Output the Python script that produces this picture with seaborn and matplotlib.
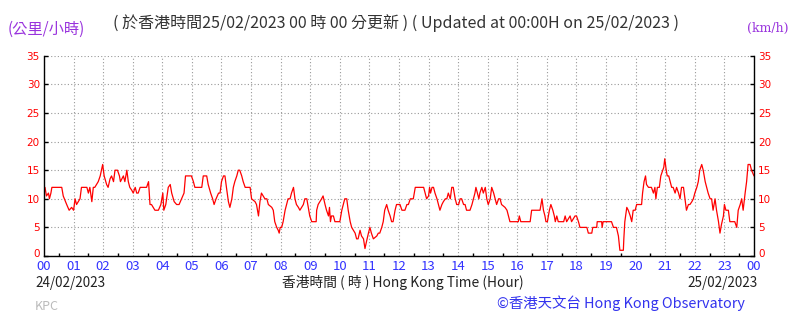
import numpy as np
import pandas as pd
import matplotlib
matplotlib.use("Agg")
import matplotlib.pyplot as plt
import matplotlib.transforms as mtransforms
from matplotlib.ticker import MultipleLocator
import seaborn as sns

# ---- data (minutes after 00:00 on 24/02/2023, wind speed km/h) ----
minutes = [0, 2, 5, 9, 11, 14, 16, 36, 39, 46, 51, 56, 60, 63, 66, 73, 76, 87, 90, 93, 97,
           100, 103, 110, 114, 119, 122, 127, 130, 134, 137, 141, 144, 149, 153, 155, 161,
           164, 168, 171, 174, 178, 181, 185, 188, 191, 195, 208, 212, 215, 218, 225, 232,
           237, 241, 243, 247, 252, 256, 259, 264, 269, 274, 279, 284, 287, 299, 303, 306,
           320, 323, 330, 333, 338, 342, 345, 349, 354, 357,
           360, 364, 367, 370, 374, 377, 381, 384, 387, 391, 394, 397, 401, 404, 408, 418,
           421, 428, 431, 435, 438, 441, 448, 452, 455, 462, 465, 468, 472, 475, 477, 479,
           482, 485, 489, 492, 495, 499, 502, 506, 509, 512, 516, 519, 526, 529, 533, 536,
           539, 543, 552, 553, 556, 563, 566, 570, 573, 577, 579, 581, 583, 587, 590, 600,
           604, 607, 610, 614, 617, 621, 624, 631, 634, 637, 641, 644, 648, 651, 654, 658,
           661, 664, 668, 675, 678, 681, 685, 688, 691, 695, 698, 702, 705, 708, 712, 715,
           722, 726, 732, 736, 739, 743, 749, 753, 770, 773, 776, 780, 782, 784, 787, 790,
           793, 797, 800, 803, 807, 810, 814, 817, 820, 824, 827, 830, 834, 837, 841, 844,
           847, 851, 854, 857, 864, 868, 871, 874, 876, 879, 882, 884, 888, 891, 895, 898,
           901, 905, 908, 912, 915, 918, 922, 925, 928, 935, 939, 942, 945, 962, 964, 967,
           986, 989, 1006, 1010, 1013, 1016, 1018, 1021, 1025, 1028, 1032, 1035, 1037, 1040,
           1043, 1054, 1057, 1060, 1067, 1070, 1077, 1080, 1084, 1087, 1101, 1104, 1111,
           1113, 1121, 1122, 1131, 1132, 1134, 1151, 1155, 1161, 1165, 1168, 1175, 1176,
           1178, 1182, 1185, 1189, 1192, 1195, 1199, 1202, 1212, 1214, 1217, 1220, 1222,
           1226, 1232, 1236, 1239, 1241, 1244, 1248, 1251, 1255, 1257, 1259, 1262, 1264,
           1267, 1270, 1273, 1276, 1280, 1283, 1287, 1290, 1293, 1297, 1300, 1303, 1307,
           1310, 1314, 1317, 1320, 1324, 1327, 1330, 1334, 1337, 1341, 1344, 1347, 1351,
           1354, 1357, 1361, 1364, 1368, 1371, 1374, 1378, 1380, 1383, 1388, 1391, 1401,
           1405, 1408, 1412, 1415, 1418, 1422, 1425, 1428, 1432, 1435, 1440]
speed = [11, 12, 10.5, 11, 10, 11, 12, 12, 10.5, 9, 8, 8.5, 8, 10, 9, 10, 12, 12, 11, 12, 9.5,
         12, 12, 13, 14, 16, 14, 12.5, 12, 13.5, 14, 13, 15, 15, 14, 13, 14,
         13, 15, 13, 12, 11.5, 11, 12, 11, 11, 12, 12, 13, 9, 9, 8, 8,
         9, 11, 8, 9, 12, 12.5, 11, 9.5, 9, 9, 10, 11, 14, 14, 13, 12,
         12, 14, 14, 12.5, 11, 10, 9, 10, 11, 11,
         13, 14, 14, 12, 9.5, 8.5, 10, 12, 13, 14, 15, 15, 14, 13, 12, 12,
         10, 9.5, 9, 7, 9.5, 11, 10, 10, 9, 8.5, 8, 6, 5, 4.5, 4, 5,
         5, 6, 8, 9, 10, 10, 11, 12, 10, 9, 8.5, 8, 9, 10, 10, 8.5,
         7, 6, 6, 8, 9, 10, 10.5, 9, 8, 7, 8.5, 6, 7, 7, 6, 6,
         8, 9, 10, 10, 8, 6, 5, 4, 3, 3, 4.5, 3.5, 3, 1.3, 2.5, 4,
         5, 4, 3, 3.5, 4, 4, 5, 6, 8, 9, 8, 7, 6, 6, 8, 9,
         9, 8, 8, 9, 9, 10, 10, 12, 12, 11, 10, 10.5, 12, 11, 12, 12,
         11, 10, 9, 8, 9, 9.5, 10, 10, 11, 10, 12, 12, 10, 9, 9, 10,
         10, 9, 9, 8, 8, 9, 10, 11, 12, 11, 10, 11, 12, 11, 12, 10,
         9, 10, 12, 11, 10, 9, 10, 10, 9, 8.5, 8, 7, 6, 6, 7, 6,
         6, 8, 8, 10, 8, 7, 6, 6, 8, 9, 8, 7, 6, 7,
         6, 6, 7, 6, 7, 6, 7, 7, 6, 5, 5, 4, 4,
         5, 5, 6, 6, 5, 6, 6, 5, 5, 3.5, 1, 1, 3,
         6, 8.5, 8, 7, 6, 8, 8, 9, 9, 11, 13, 14, 12.5,
         12, 12, 11, 12, 10, 12, 12, 14, 15, 15.5, 17, 15, 14,
         14, 13, 12, 12, 11, 12, 11, 10, 12, 12, 10, 8, 9,
         9, 9.5, 10, 11, 12, 13, 15, 16, 15, 13, 12, 11, 10,
         10, 8, 10, 8, 6, 4, 5.5, 7, 9, 8, 8, 6, 6,
         5, 8, 9, 10, 8, 11, 13, 16, 16, 15, 14]
hour_labels = ["00", "01", "02", "03", "04", "05", "06", "07", "08", "09", "10", "11", "12",
               "13", "14", "15", "16", "17", "18", "19", "20", "21", "22", "23", "00"]
y_ticks = [0, 5, 10, 15, 20, 25, 30, 35]

title_text = "( 於香港時間25/02/2023 00 時 00 分更新 ) ( Updated at 00:00H on 25/02/2023 )"
left_unit = "(公里/小時)"
right_unit = "(km/h)"
start_date = "24/02/2023"
end_date = "25/02/2023"
x_title = "香港時間 ( 時 ) Hong Kong Time (Hour)"
credit = "©香港天文台 Hong Kong Observatory"
station = "KPC"

# ---- style ----
sns.set_theme(style="white")
plt.rcParams['font.family'] = ['Noto Sans CJK TC', 'DejaVu Sans']

W, H = 804, 317
fig = plt.figure(figsize=(W / 100, H / 100), dpi=100)
fig.patch.set_facecolor("white")
x0, x1, y0, y1 = 44, 754, 55.8, 256
ax = fig.add_axes([x0 / W, 1 - y1 / H, (x1 - x0) / W, (y1 - y0) / H])
ax.set_facecolor("white")

df = pd.DataFrame({"hour": np.array(minutes) / 60.0, "speed": speed})
sns.lineplot(data=df, x="hour", y="speed", ax=ax, color="#ff0000", lw=0.9)

ax.set_xlim(0, 24)
ax.set_ylim(0, 35)
ax.set_xticks(range(25))
ax.set_xticklabels(hour_labels)
ax.xaxis.set_minor_locator(MultipleLocator(0.5))
ax.set_yticks(y_ticks)
ax.set_yticklabels([str(v) for v in y_ticks])
ax.set_xlabel("")
ax.set_ylabel("")

ax.grid(True, which="major", color="#999999", linestyle=(0, (1, 2)), lw=0.8)
for s in ["left", "right", "bottom"]:
    ax.spines[s].set_visible(True)
    ax.spines[s].set_color("black")
    ax.spines[s].set_linewidth(1.0)
ax.spines["top"].set_visible(False)

ax.tick_params(axis="x", which="major", direction="in", length=3, width=1, colors="black",
               labelcolor="#3333ff", labelsize=9.5, pad=3)
ax.tick_params(axis="x", which="minor", direction="in", length=2.5, width=1, colors="black",
               bottom=True)
ax.tick_params(axis="y", which="major", direction="in", length=3, width=1, colors="black",
               labelcolor="#ff0000", labelsize=7.5, left=True, right=True,
               labelleft=True, labelright=True, pad=3)

fig.canvas.draw()
shift_up = mtransforms.ScaledTranslation(0, 3 / 100, fig.dpi_scale_trans)
for tk in ax.yaxis.get_major_ticks():
    for lab in (tk.label1, tk.label2):
        lab.set_family("DejaVu Sans")
    if tk.get_loc() == 0:
        tk.label1.set_transform(tk.label1.get_transform() + shift_up)
        tk.label2.set_transform(tk.label2.get_transform() + shift_up)

# ---- texts ----
def ftxt(x, y, s, **kw):
    fig.text(x / W, 1 - y / H, s, **kw)

ftxt(396, 23, title_text, ha="center", va="center", fontsize=11.5, color="#333333")
ftxt(8, 29, left_unit, ha="left", va="center", fontsize=11, color="#9933dd")
ftxt(789, 28, right_unit, ha="right", va="center", fontsize=9, color="#9933dd",
     family="DejaVu Serif")
ftxt(35, 283, start_date, ha="left", va="center", fontsize=9.7, color="#222222")
ftxt(758, 283, end_date, ha="right", va="center", fontsize=9.7, color="#222222")
ftxt(403, 283, x_title, ha="center", va="center", fontsize=9.9, color="#222222")
ftxt(745, 303, credit, ha="right", va="center", fontsize=10.4, color="#3333ee")
ftxt(35, 306, station, ha="left", va="center", fontsize=9, color="#bbbbbb")

fig.savefig("out.png", dpi=100, facecolor="white")
